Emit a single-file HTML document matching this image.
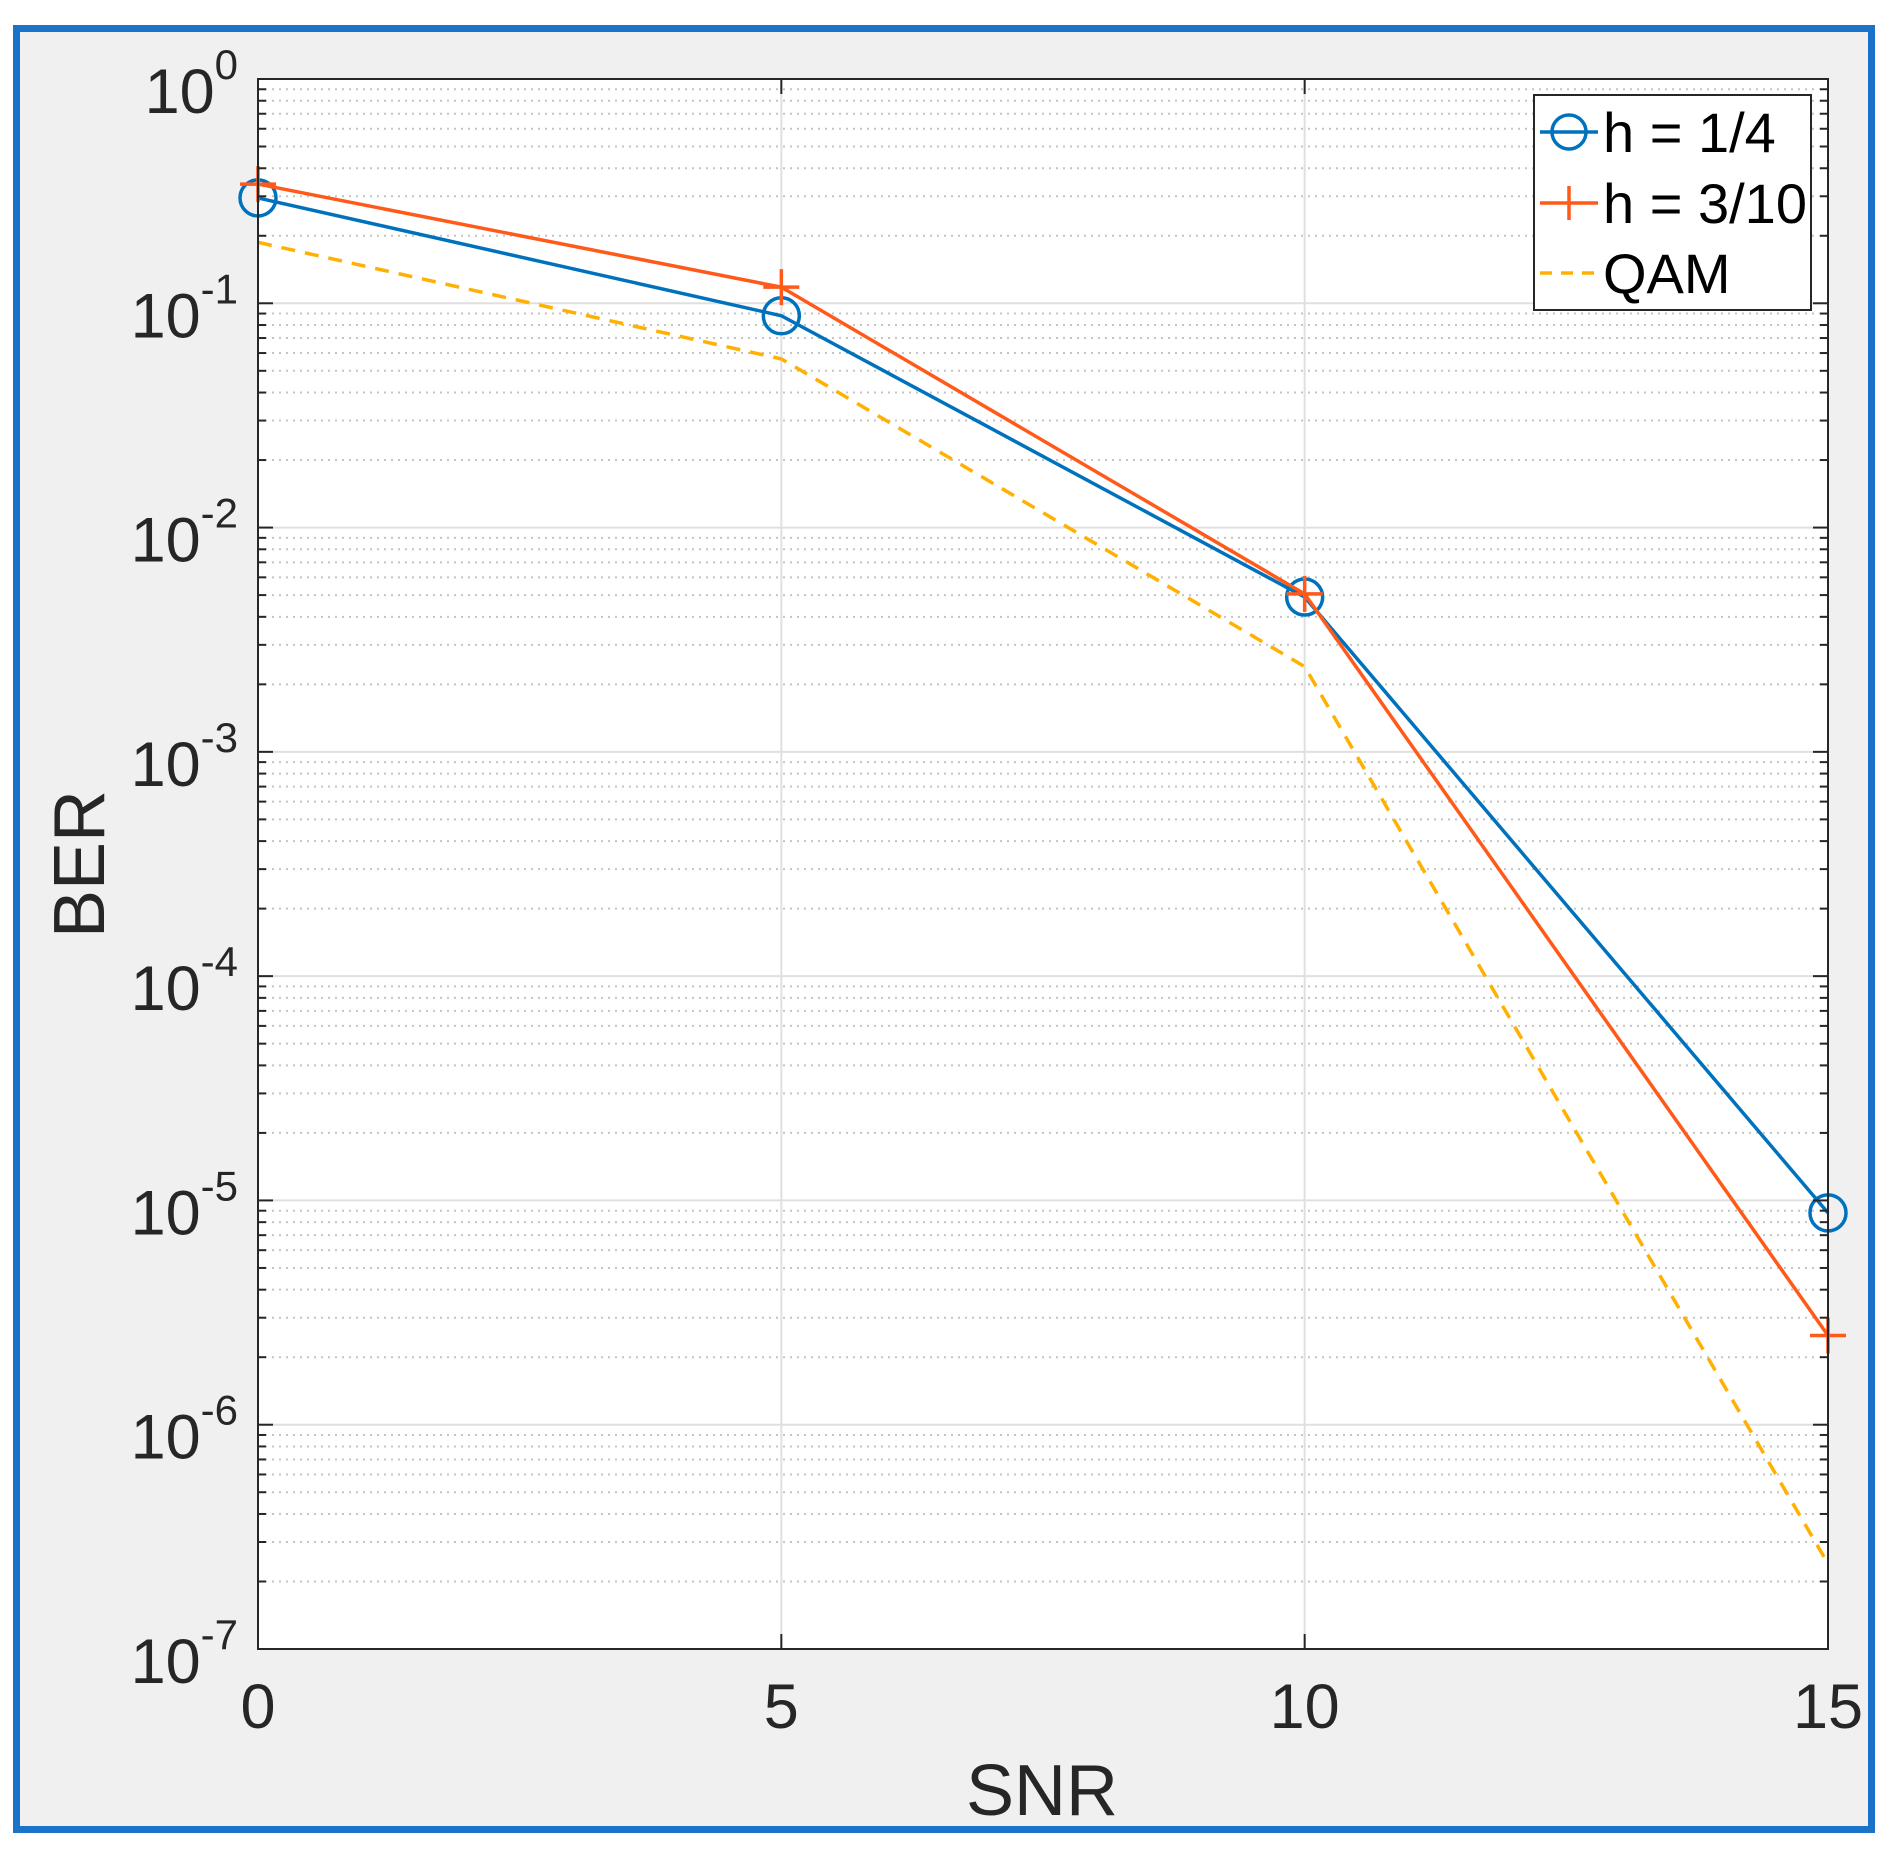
<!DOCTYPE html>
<html><head><meta charset="utf-8"><style>
html,body{margin:0;padding:0;background:#fff;}
svg{display:block;}
text{font-family:"Liberation Sans",Arial,sans-serif;fill:#262626;}
</style></head><body>
<svg id="chart" width="1904" height="1871" viewBox="0 0 1904 1871" xmlns="http://www.w3.org/2000/svg">
<rect x="16.5" y="28.5" width="1855" height="1801" fill="#f0f0f0" stroke="#1a73c8" stroke-width="7"/>
<rect x="258" y="79" width="1570" height="1570" fill="#fff"/>
<g id="grid"></g>
<g id="series"></g>
<rect x="258" y="79" width="1570" height="1570" fill="none" stroke="#262626" stroke-width="2"/>
<g id="ticks"></g>
<g id="labels"></g>
<text x="1042" y="1815" font-size="72" text-anchor="middle">SNR</text>
<text transform="translate(104,864) rotate(-90)" font-size="72" text-anchor="middle">BER</text>
<g>
<rect x="1534" y="95" width="277" height="215" fill="#fff" stroke="#262626" stroke-width="2"/>
<g>
<line x1="1540" y1="132" x2="1598" y2="132" stroke="#0072bd" stroke-width="3.5"/>
<circle cx="1569" cy="132" r="17" fill="none" stroke="#0072bd" stroke-width="3.5"/>
<text x="1603" y="152" font-size="56" style="fill:#000">h = 1/4</text></g>
<g>
<line x1="1540" y1="203" x2="1598" y2="203" stroke="#ff5a1a" stroke-width="3.5"/>
<line x1="1569" y1="186" x2="1569" y2="220" stroke="#ff5a1a" stroke-width="3.5"/>
<text x="1603" y="223" font-size="56" style="fill:#000">h = 3/10</text></g>
<g>
<line x1="1540" y1="273" x2="1598" y2="273" stroke="#ffb000" stroke-width="3.5" stroke-dasharray="12,9"/>
<text x="1603" y="293" font-size="56" style="fill:#000">QAM</text></g>
</g>
</svg>
<script>
const snr = [0, 5, 10, 15];
const berH14 = [0.295, 0.088, 0.0049, 8.8e-6];
const berH310 = [0.34, 0.118, 0.00506, 2.5e-6];
const berQAM = [0.187, 0.0565, 0.0024, 2.4e-7];
const xTicks = [0, 5, 10, 15];
const yExps = [0, -1, -2, -3, -4, -5, -6, -7];

const NS = "http://www.w3.org/2000/svg";
const L = 258, R = 1828, T = 79, B = 1649;
const xMin = 0, xMax = 15, yMaxE = 0, yMinE = -7;
function xs(v){ return L + (v - xMin) / (xMax - xMin) * (R - L); }
function ys(v){ return T + (yMaxE - Math.log10(v)) / (yMaxE - yMinE) * (B - T); }
function mk(tag, attrs, parent){ const e = document.createElementNS(NS, tag); for (const k in attrs) e.setAttribute(k, attrs[k]); parent.appendChild(e); return e; }

const grid = document.getElementById('grid');
const ticks = document.getElementById('ticks');
const labels = document.getElementById('labels');

for (let e = yMinE; e < yMaxE; e++) {
  for (let m = 2; m <= 9; m++) {
    const y = ys(m * Math.pow(10, e));
    const g = mk('line', {x1: L, x2: R, y1: y, y2: y, stroke: '#c4c4c4', 'stroke-width': 2, 'stroke-dasharray': '2,5'}, grid);
    
    
    mk('line', {x1: L, x2: L + 8, y1: y, y2: y, stroke: '#262626', 'stroke-width': 2}, ticks);
    mk('line', {x1: R - 8, x2: R, y1: y, y2: y, stroke: '#262626', 'stroke-width': 2}, ticks);
  }
}
yExps.forEach(function(e){
  const y = ys(Math.pow(10, e));
  const g = mk('line', {x1: L, x2: R, y1: y, y2: y, stroke: '#e0e0e0', 'stroke-width': 2}, grid);
  
  
  mk('line', {x1: L, x2: L + 15, y1: y, y2: y, stroke: '#262626', 'stroke-width': 2}, ticks);
  mk('line', {x1: R - 15, x2: R, y1: y, y2: y, stroke: '#262626', 'stroke-width': 2}, ticks);
  const t = mk('text', {x: 238, y: y + 34, 'font-size': 63, 'text-anchor': 'end'}, labels);
  
  
  const b = document.createElementNS(NS, 'tspan'); b.textContent = '10'; t.appendChild(b);
  const s = document.createElementNS(NS, 'tspan'); s.setAttribute('font-size', 42); s.setAttribute('dy', -34); s.textContent = String(e); t.appendChild(s);
});
xTicks.forEach(function(v){
  const x = xs(v);
  const g = mk('line', {x1: x, x2: x, y1: T, y2: B, stroke: '#e0e0e0', 'stroke-width': 2}, grid);
  
  
  mk('line', {x1: x, x2: x, y1: B - 15, y2: B, stroke: '#262626', 'stroke-width': 2}, ticks);
  mk('line', {x1: x, x2: x, y1: T, y2: T + 15, stroke: '#262626', 'stroke-width': 2}, ticks);
  const t = mk('text', {x: x, y: 1728, 'font-size': 63, 'text-anchor': 'middle'}, labels);
  
  
  t.textContent = String(v);
});

const series = document.getElementById('series');
function pts(arr){ return snr.map(function(x, i){ return xs(x) + ',' + ys(arr[i]); }).join(' '); }

const q = mk('polyline', {points: pts(berQAM), fill: 'none', stroke: '#ffb000', 'stroke-width': 3.5, 'stroke-dasharray': '14,10'}, series);



const b1 = mk('polyline', {points: pts(berH14), fill: 'none', stroke: '#0072bd', 'stroke-width': 3.5}, series);


snr.forEach(function(x, i){
  const c = mk('circle', {cx: xs(x), cy: ys(berH14[i]), r: 18, fill: 'none', stroke: '#0072bd', 'stroke-width': 3.5}, series);
  
  
});

const r1 = mk('polyline', {points: pts(berH310), fill: 'none', stroke: '#ff5a1a', 'stroke-width': 3.5}, series);


snr.forEach(function(x, i){
  const cx = xs(x), cy = ys(berH310[i]);
  const p = mk('path', {d: 'M' + (cx - 18) + ' ' + cy + 'H' + (cx + 18) + 'M' + cx + ' ' + (cy - 18) + 'V' + (cy + 18), stroke: '#ff5a1a', 'stroke-width': 3.5, fill: 'none'}, series);
  
  
});
</script>
</body></html>
